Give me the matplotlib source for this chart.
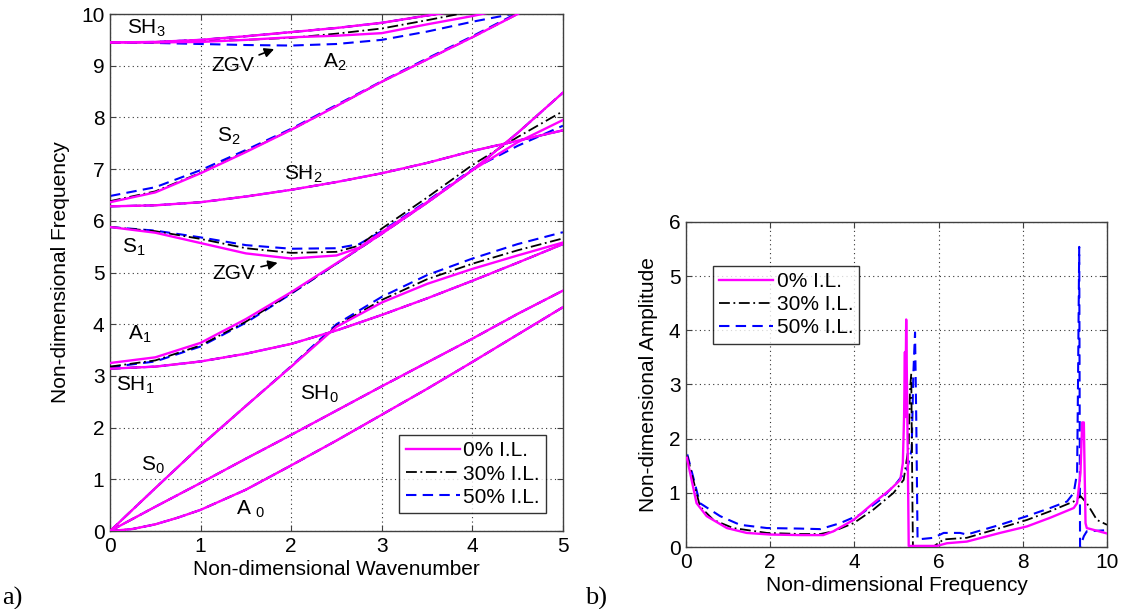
import numpy as np
import matplotlib
matplotlib.use('Agg')
import matplotlib.pyplot as plt
from matplotlib.lines import Line2D

plt.rcParams['font.family'] = 'Liberation Sans'
plt.rcParams['mathtext.fontset'] = 'custom'
plt.rcParams['mathtext.rm'] = 'Liberation Sans'
plt.rcParams['mathtext.it'] = 'Liberation Sans'

# wavenumber samples for the dispersion branches
k = [0, 0.5, 1, 1.5, 2, 2.5, 3, 3.5, 4, 4.5, 5]

# branches unchanged by the inner layer (same for all three cases)
k_a0 = [0, 0.25, 0.5, 0.75, 1, 1.5, 2, 2.5, 3, 3.5, 4, 4.5, 5]
A0 = [0, 0.04, 0.13, 0.26, 0.41, 0.8, 1.27, 1.75, 2.25, 2.75, 3.27, 3.8, 4.33]
SH0 = [0, 0.47, 0.93, 1.4, 1.86, 2.33, 2.8, 3.26, 3.72, 4.2, 4.65]
SH1 = [3.14, 3.18, 3.28, 3.43, 3.62, 3.88, 4.18, 4.5, 4.84, 5.19, 5.55]
SH2 = [6.28, 6.3, 6.36, 6.47, 6.6, 6.75, 6.92, 7.12, 7.35, 7.55, 7.75]
SH3 = [9.45, 9.46, 9.5, 9.57, 9.65, 9.73, 9.83, 9.97, 10.1, 10.25, 10.4]

# branches for 0 %, 30 %, 50 % inner layer
S0 = {
    0:  [0, 0.83, 1.65, 2.42, 3.18, 3.95, 4.42, 4.78, 5.07, 5.33, 5.58],
    30: [0, 0.83, 1.65, 2.42, 3.18, 3.97, 4.47, 4.87, 5.17, 5.43, 5.66],
    50: [0, 0.83, 1.65, 2.42, 3.19, 4.0, 4.53, 4.95, 5.27, 5.55, 5.78],
}
A1 = {
    0:  [3.25, 3.36, 3.64, 4.1, 4.62, 5.18, 5.75, 6.35, 6.98, 7.7, 8.48],
    30: [3.18, 3.3, 3.59, 4.05, 4.6, 5.17, 5.75, 6.35, 6.98, 7.7, 8.48],
    50: [3.17, 3.28, 3.57, 4.03, 4.59, 5.17, 5.75, 6.35, 6.98, 7.7, 8.48],
}
k_s1 = [0, 0.5, 1, 1.5, 2, 2.5, 2.75, 3, 3.5, 4, 4.5, 5]
S1 = {
    0:  [5.88, 5.77, 5.57, 5.37, 5.27, 5.33, 5.48, 5.78, 6.36, 6.98, 7.52, 7.95],
    30: [5.88, 5.8, 5.65, 5.47, 5.38, 5.4, 5.52, 5.85, 6.45, 7.08, 7.62, 8.12],
    50: [5.88, 5.81, 5.68, 5.53, 5.46, 5.47, 5.55, 5.8, 6.38, 7.0, 7.45, 7.84],
}
S2 = {
    0:  [6.36, 6.55, 6.92, 7.33, 7.76, 8.22, 8.69, 9.12, 9.55, 10.0, 10.45],
    30: [6.38, 6.57, 6.93, 7.34, 7.76, 8.22, 8.69, 9.12, 9.55, 10.0, 10.45],
    50: [6.48, 6.65, 6.98, 7.37, 7.78, 8.24, 8.7, 9.14, 9.57, 10.02, 10.45],
}
A2 = {
    0:  [9.45, 9.45, 9.46, 9.5, 9.55, 9.58, 9.63, 9.8, 9.96, 10.15, 10.4],
    30: [9.45, 9.45, 9.47, 9.5, 9.54, 9.62, 9.72, 9.88, 10.05, 10.2, 10.4],
    50: [9.45, 9.44, 9.42, 9.4, 9.39, 9.42, 9.5, 9.66, 9.85, 10.02, 10.2],
}

# frequency response
f0 = [0.02, 0.25, 0.49, 0.97, 1.44, 2.0, 2.71, 3.26, 3.5, 3.98, 4.45, 4.85, 5.09, 5.15,
      5.18, 5.2, 5.21, 5.23, 5.25, 5.27, 5.29, 5.6, 5.96, 6.2, 6.67, 7.46, 8.1, 8.65,
      9.21, 9.29, 9.37, 9.41, 9.45, 9.46, 9.49, 9.52, 10.0]
amp0 = [1.65, 0.81, 0.57, 0.35, 0.26, 0.23, 0.22, 0.22, 0.29, 0.5, 0.81, 1.06, 1.24, 1.55,
        2.42, 3.6, 2.4, 4.2, 2.9, 1.5, 0.02, 0.02, 0.02, 0.07, 0.1, 0.26, 0.38, 0.54,
        0.72, 0.81, 1.37, 2.3, 2.3, 1.8, 0.44, 0.35, 0.25]
f30 = [0.03, 0.33, 0.65, 1.12, 1.92, 2.71, 3.19, 3.5, 3.98, 4.45, 4.93, 5.17, 5.29, 5.32,
       5.35, 5.36, 5.38, 5.39, 5.88, 6.12, 6.67, 7.46, 8.1, 8.65, 9.21, 9.37, 9.52, 9.76, 10.0]
amp30 = [1.68, 0.75, 0.5, 0.35, 0.26, 0.24, 0.24, 0.29, 0.44, 0.69, 1.0, 1.24, 1.86, 2.9,
         3.2, 2.3, 0.69, 0.01, 0.01, 0.14, 0.17, 0.35, 0.5, 0.66, 0.84, 0.94, 0.81, 0.5, 0.41]
f50 = [0.03, 0.33, 0.81, 1.28, 1.92, 2.71, 3.19, 3.66, 4.14, 4.61, 5.0, 5.25, 5.36, 5.4,
       5.44, 5.47, 5.5, 5.88, 6.12, 6.51, 6.67, 7.46, 8.1, 8.65, 9.05, 9.21, 9.29, 9.31,
       9.34, 9.36, 9.45, 9.52, 10.0]
amp50 = [1.71, 0.81, 0.57, 0.41, 0.35, 0.34, 0.33, 0.44, 0.6, 0.87, 1.18, 1.43, 1.8, 3.2,
         3.96, 2.3, 0.14, 0.17, 0.26, 0.26, 0.23, 0.41, 0.57, 0.72, 0.84, 1.0, 1.37, 2.9,
         5.54, 0.0, 0.2, 0.29, 0.31]

labels = ['0% I.L.', '30% I.L.', '50% I.L.']
styles = {
    0:  dict(color='#ff00ff', ls='-', lw=1.7, zorder=4),
    30: dict(color='black', ls=(0, (6, 2, 1, 2)), lw=1.3, zorder=3),
    50: dict(color='#0000ff', ls=(0, (5, 3)), lw=1.5, zorder=2),
}


def matlab_axes(ax):
    ax.grid(True, ls=(0, (1, 3)), color='#333333', lw=0.8)
    ax.tick_params(direction='in', top=True, right=True, labelsize=15,
                   length=4, color='#404040', pad=4)
    for s in ax.spines.values():
        s.set_color('#404040')
        s.set_linewidth(1.0)


fig = plt.figure(figsize=(11.25, 6.09), dpi=100)
ax1 = fig.add_axes([0.0978, 0.128, 0.4026, 0.849])
ax2 = fig.add_axes([0.6098, 0.1018, 0.3742, 0.5337])

# dispersion curves
for case in (50, 30, 0):
    st = styles[case]
    ax1.plot(k_a0, A0, **st)
    for y in (SH0, SH1, SH2, SH3):
        ax1.plot(k, y, **st)
    ax1.plot(k, S0[case], **st)
    ax1.plot(k, A1[case], **st)
    ax1.plot(k_s1, S1[case], **st)
    ax1.plot(k, S2[case], **st)
    ax1.plot(k, A2[case], **st)

ax1.set_xlim(0, 5)
ax1.set_ylim(0, 10)
ax1.set_xticks(range(0, 6))
ax1.set_yticks(range(0, 11))
matlab_axes(ax1)
ax1.set_xlabel('Non-dimensional Wavenumber', fontsize=15, labelpad=3)
ax1.set_ylabel('Non-dimensional Frequency', fontsize=15, labelpad=8)

fs = 15
ax1.text(0.4, 9.72, r'SH$_\mathregular{3}$', fontsize=fs, ha='center', va='center')
ax1.text(2.48, 9.07, r'A$_\mathregular{2}$', fontsize=fs, ha='center', va='center')
ax1.text(1.31, 7.64, r'S$_\mathregular{2}$', fontsize=fs, ha='center', va='center')
ax1.text(2.13, 6.9, r'SH$_\mathregular{2}$', fontsize=fs, ha='center', va='center')
ax1.text(0.26, 5.48, r'S$_\mathregular{1}$', fontsize=fs, ha='center', va='center')
ax1.text(0.33, 3.8, r'A$_\mathregular{1}$', fontsize=fs, ha='center', va='center')
ax1.text(0.28, 2.82, r'SH$_\mathregular{1}$', fontsize=fs, ha='center', va='center')
ax1.text(2.31, 2.65, r'SH$_\mathregular{0}$', fontsize=fs, ha='center', va='center')
ax1.text(0.47, 1.28, r'S$_\mathregular{0}$', fontsize=fs, ha='center', va='center')
ax1.text(1.55, 0.41, r'A $_\mathregular{0}$', fontsize=fs, ha='center', va='center')

arrow = dict(arrowstyle='-|>', color='black', lw=1.2, mutation_scale=14)
ax1.annotate('ZGV', xy=(1.84, 9.34), xytext=(1.35, 9.01), fontsize=fs,
             ha='center', va='center', arrowprops=arrow, zorder=6)
ax1.annotate('ZGV', xy=(1.88, 5.2), xytext=(1.37, 4.99), fontsize=fs,
             ha='center', va='center', arrowprops=arrow, zorder=6)

# frequency response
ax2.plot(f50, amp50, **styles[50])
ax2.plot(f30, amp30, **styles[30])
ax2.plot(f0, amp0, **styles[0])
ax2.set_xlim(0, 10)
ax2.set_ylim(0, 6)
ax2.set_xticks(range(0, 11, 2))
ax2.set_yticks(range(0, 7))
matlab_axes(ax2)
ax2.set_xlabel('Non-dimensional Frequency', fontsize=15, labelpad=3)
ax2.set_ylabel('Non-dimensional Amplitude', fontsize=15, labelpad=8)

handles = [Line2D([], [], **{kk: v for kk, v in styles[c].items() if kk != 'zorder'})
           for c in (0, 30, 50)]
leg_kw = dict(fontsize=15, frameon=True, fancybox=False, edgecolor='black',
              handlelength=2.6, handletextpad=0.15, borderpad=0.3, labelspacing=0.2,
              borderaxespad=0)
l1 = ax1.legend(handles, labels, loc='lower right', bbox_to_anchor=(0.962, 0.035), **leg_kw)
l2 = ax2.legend(handles, labels, loc='upper left', bbox_to_anchor=(0.064, 0.865), **leg_kw)
for leg in (l1, l2):
    leg.get_frame().set_linewidth(1.0)
    leg.set_zorder(10)

fig.text(0.002, 0.008, 'a)', fontsize=19, family='Liberation Serif')
fig.text(0.52, 0.008, 'b)', fontsize=19, family='Liberation Serif')

fig.savefig('out.png', dpi=100)
